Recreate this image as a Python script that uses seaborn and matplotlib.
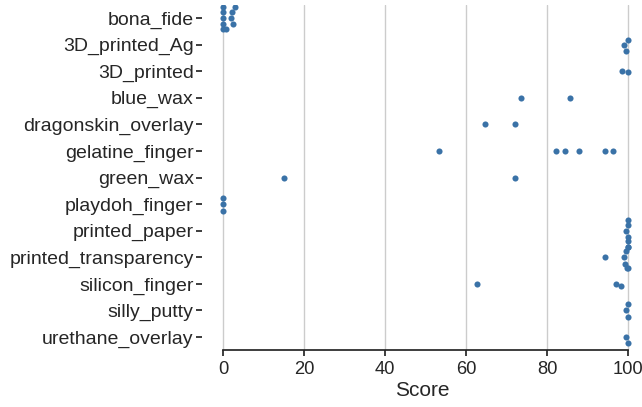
import numpy as np
import pandas as pd
import matplotlib
matplotlib.use("Agg")
import matplotlib.pyplot as plt
import seaborn as sns

categories = ["bona_fide", "3D_printed_Ag", "3D_printed", "blue_wax",
              "dragonskin_overlay", "gelatine_finger", "green_wax",
              "playdoh_finger", "printed_paper", "printed_transparency",
              "silicon_finger", "silly_putty", "urethane_overlay"]

bona_fide = [0, 0, 0, 0, 0, 0.8, 2.0, 2.4, 2.9, 2.2]
printed_3d_ag = [99.5, 99.0, 100.0]
printed_3d = [98.5, 100.0]
blue_wax = [73.6, 85.7]
dragonskin_overlay = [64.7, 72.1]
gelatine_finger = [53.3, 82.1, 84.4, 88.0, 94.3, 96.3]
green_wax = [15.1, 72.1]
playdoh_finger = [0, 0, 0]
printed_paper = [99.4, 100, 100, 100, 100]
printed_transparency = [94.3, 99.0, 99.2, 99.5, 99.7, 100, 100, 100]
silicon_finger = [62.8, 96.9, 98.3]
silly_putty = [100, 99.6, 100]
urethane_overlay = [100, 99.6]

series = [bona_fide, printed_3d_ag, printed_3d, blue_wax, dragonskin_overlay,
          gelatine_finger, green_wax, playdoh_finger, printed_paper,
          printed_transparency, silicon_finger, silly_putty, urethane_overlay]

rows = []
for cat, vals in zip(categories, series):
    for v in vals:
        rows.append({"Attack": cat, "Score": v})
df = pd.DataFrame(rows)

sns.set_theme(style="ticks", rc={"axes.grid": True, "grid.color": "0.8"})
plt.rcParams['font.family'] = ['Liberation Sans', 'DejaVu Sans']

fig = plt.figure(figsize=(6.42, 4.07), dpi=100)
left_px, right_px = 202, 642
ax = fig.add_axes([left_px / 642, 1 - 350.3 / 407, (right_px - left_px) / 642, (350.3 - 4.7) / 407])
sns.swarmplot(data=df, x="Score", y="Attack", order=categories, ax=ax,
              color="#3a72a7", size=4.4)
ax.set_xlim(-5.2, -5.2 + (right_px - left_px) / 4.05)
ax.set_xticks([0, 20, 40, 60, 80, 100])
ax.grid(axis="x", color="0.8")
ax.grid(axis="y", visible=False)
ax.set_ylabel("")
ax.set_xlabel("Score", fontsize=15, labelpad=2)
ax.tick_params(axis="y", labelsize=14.0, colors="0.15", length=4, pad=2)
ax.tick_params(axis="x", labelsize=13.2, colors="0.15", length=4, pad=4)
sns.despine(ax=ax, left=True, trim=True)
fig.savefig("out.png", dpi=100)
